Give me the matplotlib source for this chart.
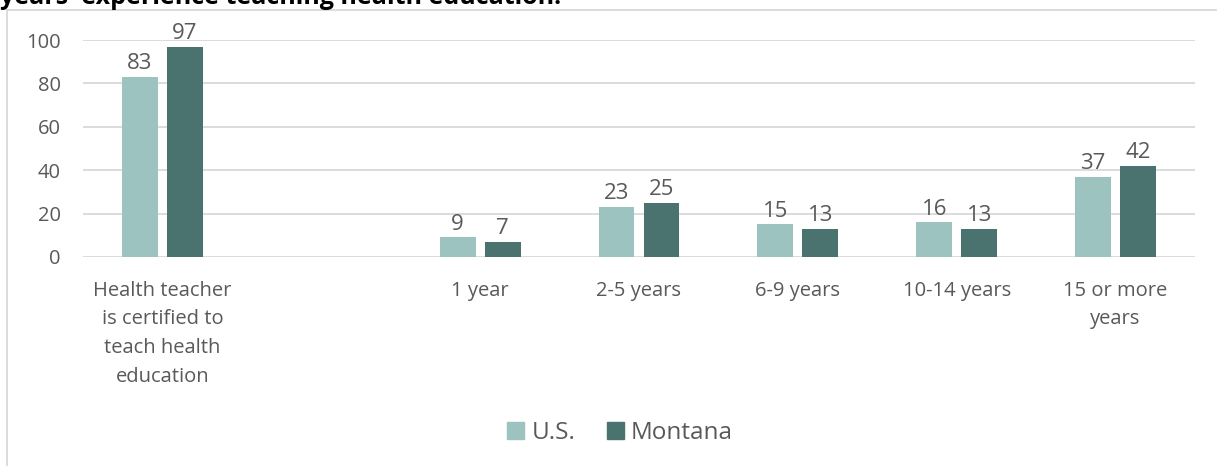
import numpy as np
import matplotlib.pyplot as plt
from matplotlib.patches import Patch
from matplotlib.lines import Line2D

plt.rcParams['font.family'] = ['Open Sans', 'DejaVu Sans']

categories = ['Health teacher\nis certified to\nteach health\neducation', '',
              '1 year', '2-5 years', '6-9 years', '10-14 years', '15 or more\nyears']
us = [83, np.nan, 9, 23, 15, 16, 37]
montana = [97, np.nan, 7, 25, 13, 13, 42]

c_us = '#9DC3C1'
c_mt = '#4A7370'
txt = '#595959'

fig = plt.figure(figsize=(12.17, 4.66), dpi=100)
ax = fig.add_axes([83/1217, 1 - 257/466, (1195-83)/1217, 217/466])

x = np.arange(len(categories))
w = 0.226
off = 0.1416
ax.bar(x - off, us, w, color=c_us, label='U.S.')
ax.bar(x + off, montana, w, color=c_mt, label='Montana')

for i in range(len(x)):
    if np.isnan(us[i]):
        continue
    ax.text(x[i] - off, us[i] + 1.2, str(us[i]), ha='center', va='bottom', fontsize=16, color=txt, clip_on=False)
    ax.text(x[i] + off, montana[i] + 1.2, str(montana[i]), ha='center', va='bottom', fontsize=16, color=txt, clip_on=False)

ax.set_xlim(-0.5, len(categories) - 0.5)
ax.set_ylim(0, 100)
ax.set_yticks([0, 20, 40, 60, 80, 100])
ax.set_xticks(x)
ax.set_xticklabels(categories, linespacing=1.58)
ax.tick_params(axis='both', length=0, labelsize=14.5, colors=txt)
ax.tick_params(axis='x', pad=17)
ax.tick_params(axis='y', pad=16)
ax.grid(axis='y', color='#D9D9D9', linewidth=1.3)
ax.set_axisbelow(True)
for s in ax.spines.values():
    s.set_visible(False)

handles = [Patch(color=c_us, label='U.S.'), Patch(color=c_mt, label='Montana')]
fig.legend(handles=handles, loc='center', bbox_to_anchor=(620/1217, 1 - 433/466), ncol=2,
           frameon=False, fontsize=17.5, labelcolor=txt, handlelength=0.7, handleheight=0.7,
           handletextpad=0.3, columnspacing=1.3)

# outer chart border (partly cut off)
fig.add_artist(Line2D([7/1217, 7/1217], [0, 1 - 10/466], color='#D9D9D9', linewidth=1.3))
fig.add_artist(Line2D([7/1217, 1], [1 - 10/466, 1 - 10/466], color='#D9D9D9', linewidth=1.3))

fig.text(0.0, 1 - 4/466, "years' experience teaching health education.", fontsize=18,
         fontweight='bold', color='#000000', ha='left', va='baseline')

fig.savefig('out.png', dpi=100)
